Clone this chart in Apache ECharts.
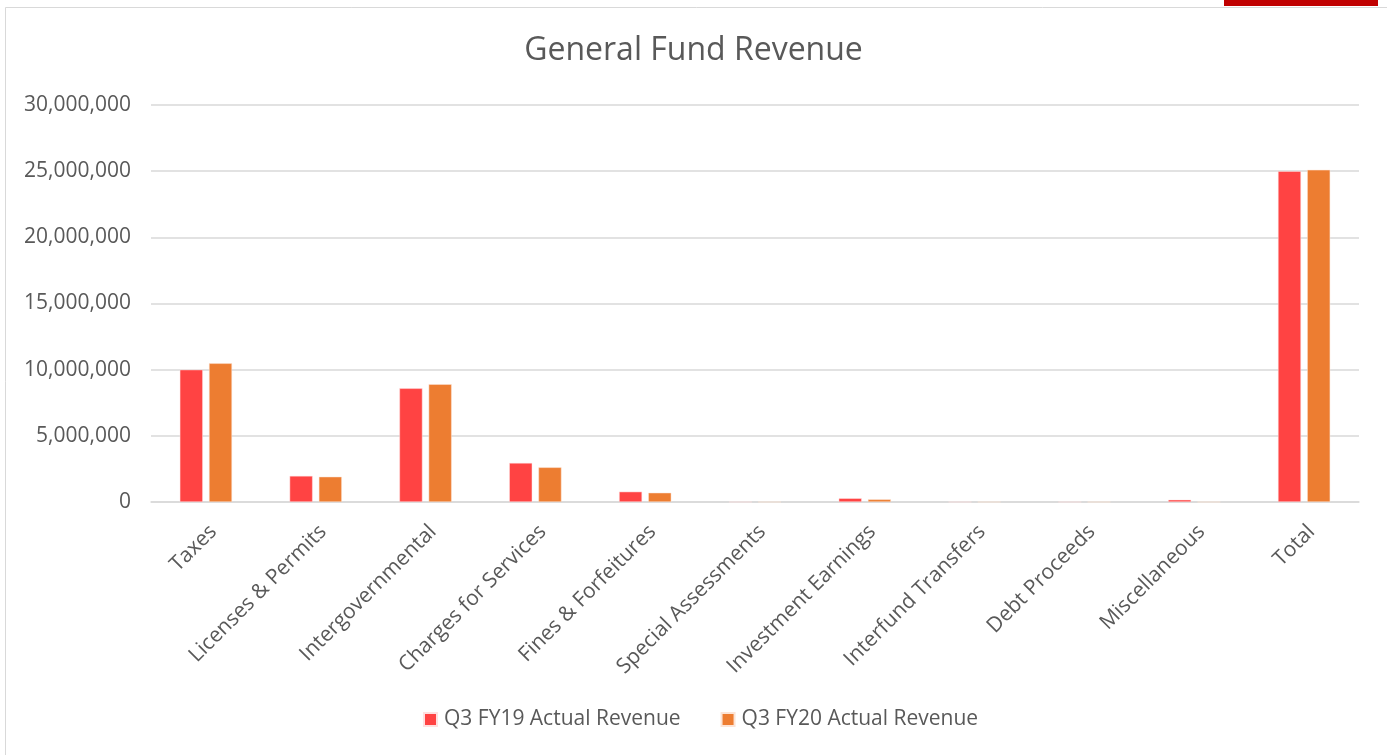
<!DOCTYPE html>
<html>
<head>
<meta charset="utf-8">
<script src="https://cdn.jsdelivr.net/npm/echarts@6/dist/echarts.min.js"></script>
<style>
html,body{margin:0;padding:0;background:#fff;}
#c{width:1387px;height:755px;}
</style>
</head>
<body>
<div id="c"></div>
<script>
const categories = ["Taxes","Licenses & Permits","Intergovernmental","Charges for Services","Fines & Forfeitures","Special Assessments","Investment Earnings","Interfund Transfers","Debt Proceeds","Miscellaneous","Total"];
const seriesNames = ["Q3 FY19 Actual Revenue","Q3 FY20 Actual Revenue"];
const fy19 = [10000000, 1970000, 8590000, 2950000, 780000, 0, 280000, 0, 0, 170000, 25000000];
const fy20 = [10480000, 1910000, 8900000, 2620000, 700000, 0, 200000, 0, 0, 0, 25100000];
const yTicks = [0, 5000000, 10000000, 15000000, 20000000, 25000000, 30000000];

const FONT = '"Open Sans", "Noto Sans", sans-serif';
const chart = echarts.init(document.getElementById('c'), null, {renderer:'canvas'});
chart.setOption({
  animation:false,
  backgroundColor:'#ffffff',
  graphic:[
    {type:'rect', shape:{x:5.5,y:7.5,width:1385,height:760}, style:{fill:'none',stroke:'#D9D9D9',lineWidth:1}, silent:true},
    {type:'rect', shape:{x:1224,y:0,width:154,height:6}, style:{fill:'#C00000'}, silent:true}
  ],
  title:{
    text:'General Fund Revenue',
    left:'center', top:30,
    textStyle:{fontFamily:FONT,fontSize:32,fontWeight:'normal',color:'#595959'}
  },
  legend:{
    bottom:20, left:418,
    itemWidth:13, itemHeight:13, itemGap:40,
    icon:'rect',
    textStyle:{fontFamily:FONT,fontSize:21,color:'#595959',padding:[0,0,0,2]},
    data:seriesNames
  },
  grid:{left:151, right:28, top:105, bottom:253, containLabel:false},
  xAxis:{
    type:'category',
    data:categories,
    axisLine:{lineStyle:{color:'#D9D9D9',width:1.5}},
    axisTick:{show:false},
    axisLabel:{rotate:45, fontFamily:FONT, fontSize:21, color:'#595959', margin:19, interval:0, verticalAlign:'top'}
  },
  yAxis:{
    type:'value',
    min:yTicks[0], max:yTicks[yTicks.length-1], interval:yTicks[1]-yTicks[0],
    axisLine:{show:false}, axisTick:{show:false},
    splitLine:{lineStyle:{color:'#D9D9D9',width:1.5}},
    axisLabel:{fontFamily:FONT,fontSize:21,color:'#595959',margin:20,
      formatter:v=>v.toLocaleString('en-US')}
  },
  series:[
    {name:seriesNames[0], type:'bar', data:fy19, barWidth:23, barGap:'27%',
      itemStyle:{color:'#FF4343', borderColor:'#FFE0E0', borderWidth:0.5}},
    {name:seriesNames[1], type:'bar', data:fy20, barWidth:23,
      itemStyle:{color:'#ED7D31', borderColor:'#FCE4D6', borderWidth:0.5}}
  ]
});
</script>
</body>
</html>
